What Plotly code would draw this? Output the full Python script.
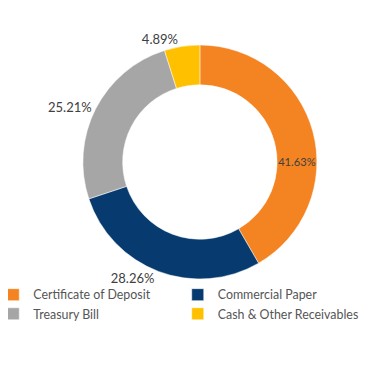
import plotly.graph_objects as go

categories = ["Certificate of Deposit", "Commercial Paper", "Treasury Bill", "Cash & Other Receivables"]
values = [41.63, 28.26, 25.21, 4.89]
colors = ["#F48422", "#073B70", "#A6A6A6", "#FFC000"]
label_pos = ["inside", "outside", "outside", "outside"]

fig = go.Figure(go.Pie(
    labels=categories,
    values=values,
    text=[f"{v:.2f}%" for v in values],
    textinfo="text",
    textposition=label_pos,
    insidetextorientation="horizontal",
    hole=0.66,
    sort=False,
    direction="clockwise",
    rotation=0,
    marker=dict(colors=colors, line=dict(color="white", width=0.5)),
    textfont=dict(family="Lato", size=13, color="#404040"),
    insidetextfont=dict(family="Lato", size=13, color="#404040"),
    outsidetextfont=dict(family="Lato", size=13, color="#404040"),
    domain=dict(x=[0.062, 0.978], y=[0.0, 0.8635]),
    hoverinfo="label+text",
))

fig.update_layout(
    width=369, height=390,
    margin=dict(l=0, r=0, t=0, b=119, autoexpand=False),
    paper_bgcolor="white",
    plot_bgcolor="white",
    font=dict(family="Lato", color="#555555", size=14),
    legend=dict(
        orientation="h",
        traceorder="normal",
        x=-0.04, y=-0.004, xanchor="left", yanchor="top",
        entrywidth=0.5, entrywidthmode="fraction",
        bgcolor="rgba(0,0,0,0)",
        font=dict(family="Lato", size=12.4, color="#555555"),
        tracegroupgap=0,
    ),
)

fig.write_html("out.html")
